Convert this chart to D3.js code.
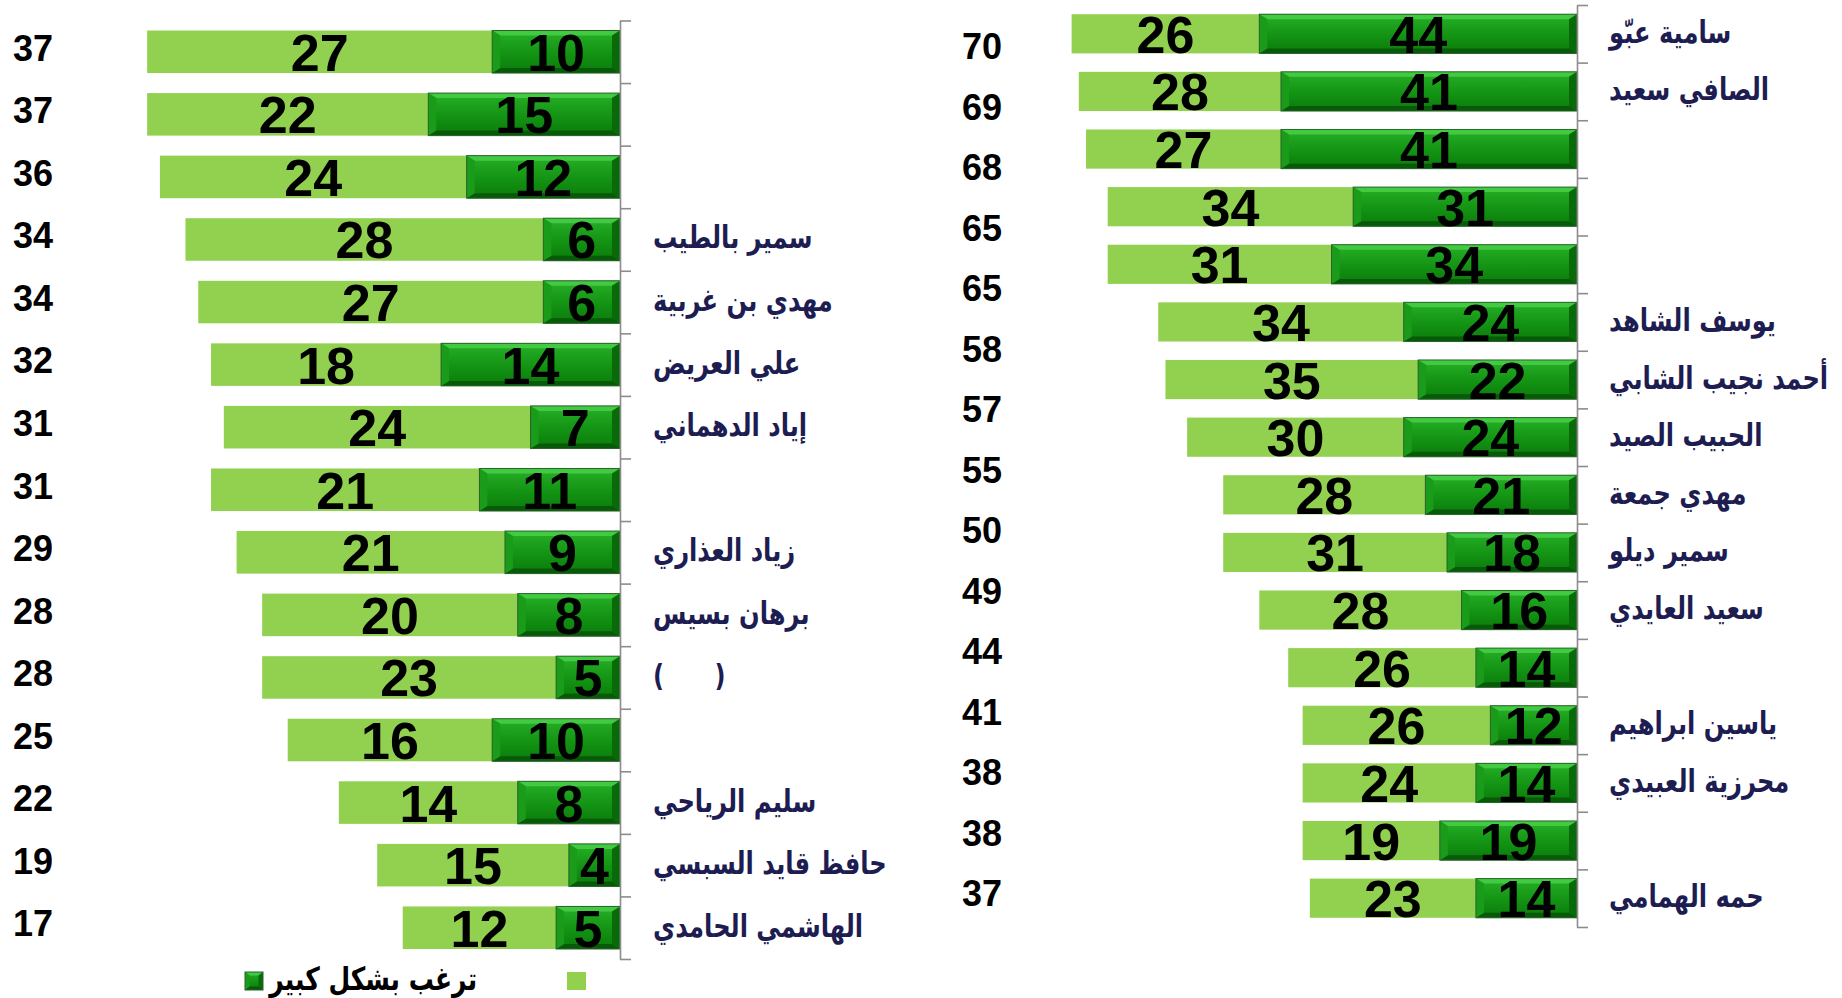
<!DOCTYPE html>
<html><head><meta charset="utf-8">
<script src="https://cdn.jsdelivr.net/npm/d3@7"></script>
<style>body{margin:0;background:#fff;} svg{display:block} text{white-space:pre}</style>
</head><body><svg id="c" width="1842" height="998"></svg>
<script>
// ---------- data ----------
const leftNames = ["", "", "", "سمير بالطيب", "مهدي بن غربية", "علي العريض", "إياد الدهماني", "", "زياد العذاري", "برهان بسيس", "(      )", "", "سليم الرياحي", "حافظ قايد السبسي", "الهاشمي الحامدي"];
const leftLight = [27, 22, 24, 28, 27, 18, 24, 21, 21, 20, 23, 16, 14, 15, 12];
const leftStrong = [10, 15, 12, 6, 6, 14, 7, 11, 9, 8, 5, 10, 8, 4, 5];
const leftTotals = [37, 37, 36, 34, 34, 32, 31, 31, 29, 28, 28, 25, 22, 19, 17];

const rightNames = ["سامية عبّو", "الصافي سعيد", "", "", "", "يوسف الشاهد", "أحمد نجيب الشابي", "الحبيب الصيد", "مهدي جمعة", "سمير ديلو", "سعيد العايدي", "", "ياسين ابراهيم", "محرزية العبيدي", "", "حمه الهمامي"];
const rightLight = [26, 28, 27, 34, 31, 34, 35, 30, 28, 31, 28, 26, 26, 24, 19, 23];
const rightStrong = [44, 41, 41, 31, 34, 24, 22, 24, 21, 18, 16, 14, 12, 14, 19, 14];
const rightTotals = [70, 69, 68, 65, 65, 58, 57, 55, 50, 49, 44, 41, 38, 38, 37];

const legendLabels = ["ترغب بشكل كبير", ""];

// ---------- style ----------
const LIGHT = "#92d050";
const NAME_COLOR = "#1d1d52";
const NUM_FONT = "'Liberation Sans', Arial, sans-serif";
const AR_FONT = "'DejaVu Sans', sans-serif";
const AR_SCALE = 0.78;

const svg = d3.select("#c");
svg.append("rect").attr("width", 1842).attr("height", 998).attr("fill", "#fff");

const defs = svg.append("defs");
const g1 = defs.append("linearGradient").attr("id", "dg").attr("x1", 0).attr("y1", 0).attr("x2", 0).attr("y2", 1);
g1.append("stop").attr("offset", "0%").attr("stop-color", "#27b027");
g1.append("stop").attr("offset", "55%").attr("stop-color", "#139313");
g1.append("stop").attr("offset", "100%").attr("stop-color", "#0b7b0b");

function bevelRect(g, x0, y0, w, h) {
  const x1 = x0 + w, y1 = y0 + h;
  const b = Math.min(8, w / 4), v = Math.min(5, h / 5);
  g.append("rect").attr("x", x0).attr("y", y0).attr("width", w).attr("height", h).attr("fill", "url(#dg)");
  const poly = (pts, fill) => g.append("polygon").attr("points", pts.map(p => p.join(",")).join(" ")).attr("fill", fill);
  poly([[x0, y0], [x1, y0], [x1 - b, y0 + v], [x0 + b, y0 + v]], "#42ca42");
  poly([[x0, y1], [x1, y1], [x1 - b, y1 - v], [x0 + b, y1 - v]], "#075a07");
  poly([[x0, y0], [x0 + b, y0 + v], [x0 + b, y1 - v], [x0, y1]], "#1a9c1a");
  poly([[x1, y0], [x1 - b, y0 + v], [x1 - b, y1 - v], [x1, y1]], "#086a08");
  g.append("rect").attr("x", x0).attr("y", y0).attr("width", w).attr("height", h)
    .attr("fill", "none").attr("stroke", "#2a632a").attr("stroke-width", 1);
}

function panel(cfg) {
  const n = cfg.light.length;
  const idx = d3.range(n);
  const y = d3.scaleBand().domain(idx).range(cfg.yRange).paddingInner(0.32).paddingOuter(0.16);
  const x = d3.scaleLinear().domain([0, cfg.xMax]).range([cfg.axisX, cfg.axisX - cfg.xMax * cfg.ppu]);
  const g = svg.append("g");

  g.selectAll("rect.light").data(idx).join("rect").attr("class", "light")
    .attr("x", i => x(cfg.light[i] + cfg.strong[i]))
    .attr("y", i => y(i))
    .attr("width", i => x(cfg.strong[i]) - x(cfg.light[i] + cfg.strong[i]))
    .attr("height", y.bandwidth())
    .attr("fill", LIGHT);

  idx.forEach(i => {
    bevelRect(g, x(cfg.strong[i]), y(i), x(0) - x(cfg.strong[i]), y.bandwidth());
  });

  const c = i => y(i) + y.bandwidth() / 2;
  g.selectAll("text.lv").data(idx).join("text").attr("class", "lv")
    .attr("x", i => (x(cfg.strong[i]) + x(cfg.light[i] + cfg.strong[i])) / 2)
    .attr("y", i => c(i) + 19)
    .attr("text-anchor", "middle").attr("font-family", NUM_FONT).attr("font-weight", "bold")
    .attr("font-size", 52).attr("fill", "#000").text(i => cfg.light[i]);
  g.selectAll("text.sv").data(idx).join("text").attr("class", "sv")
    .attr("x", i => (x(0) + x(cfg.strong[i])) / 2)
    .attr("y", i => c(i) + 19)
    .attr("text-anchor", "middle").attr("font-family", NUM_FONT).attr("font-weight", "bold")
    .attr("font-size", 52).attr("fill", "#000").text(i => cfg.strong[i]);

  const step = y.step();
  const yb = d3.scaleLinear().domain([0, n]).range([cfg.yRange[0], cfg.yRange[0] + n * step]);
  const ax = g.append("g").attr("transform", `translate(${cfg.axisX},0)`)
    .call(d3.axisRight(yb).tickValues(d3.range(n + 1)).tickFormat("").tickSize(11).tickSizeOuter(0));
  ax.selectAll("path,line").attr("stroke", "#8c8c8c").attr("stroke-width", 1.6);

  g.selectAll("text.nm").data(idx).join("text").attr("class", "nm")
    .attr("transform", i => `translate(${cfg.nameX},${c(i) + 9}) scale(${AR_SCALE},1)`)
    .attr("text-anchor", "start").attr("font-family", AR_FONT).attr("font-weight", "bold")
    .attr("font-size", cfg.nameSize).attr("fill", NAME_COLOR).text(i => cfg.names[i]);

  const ti = d3.range(cfg.totals.length);
  const yt = d3.scaleBand().domain(ti).range(cfg.totRange);
  g.selectAll("text.tt").data(ti).join("text").attr("class", "tt")
    .attr("x", cfg.totX).attr("y", i => yt(i) + yt.bandwidth() / 2 + 13)
    .attr("text-anchor", "middle").attr("font-family", NUM_FONT).attr("font-weight", "bold")
    .attr("font-size", 36).attr("fill", "#000").text(i => cfg.totals[i]);
}

panel({
  names: leftNames, light: leftLight, strong: leftStrong, totals: leftTotals,
  yRange: [20.5, 959], axisX: 620, xMax: 40, ppu: 12.78, nameX: 653, nameSize: 31,
  totX: 33, totRange: [16.5, 954.5]
});
panel({
  names: rightNames, light: rightLight, strong: rightStrong, totals: rightTotals,
  yRange: [5, 927], axisX: 1577, xMax: 75, ppu: 7.22, nameX: 1609, nameSize: 31,
  totX: 982, totRange: [15.75, 923.25]
});

// legend
const lg = svg.append("g");
bevelRect(lg, 245, 972, 18, 18);
lg.append("text").attr("transform", `translate(477,990) scale(${AR_SCALE},1)`).attr("text-anchor", "end")
  .attr("font-family", AR_FONT).attr("font-weight", "bold").attr("font-size", 32)
  .attr("fill", "#000").text(legendLabels[0]);
lg.append("rect").attr("x", 567).attr("y", 972).attr("width", 19).attr("height", 18).attr("fill", LIGHT);
lg.append("text").attr("x", 600).attr("y", 990).attr("font-family", AR_FONT).attr("font-size", 28).text(legendLabels[1]);
</script></body></html>
